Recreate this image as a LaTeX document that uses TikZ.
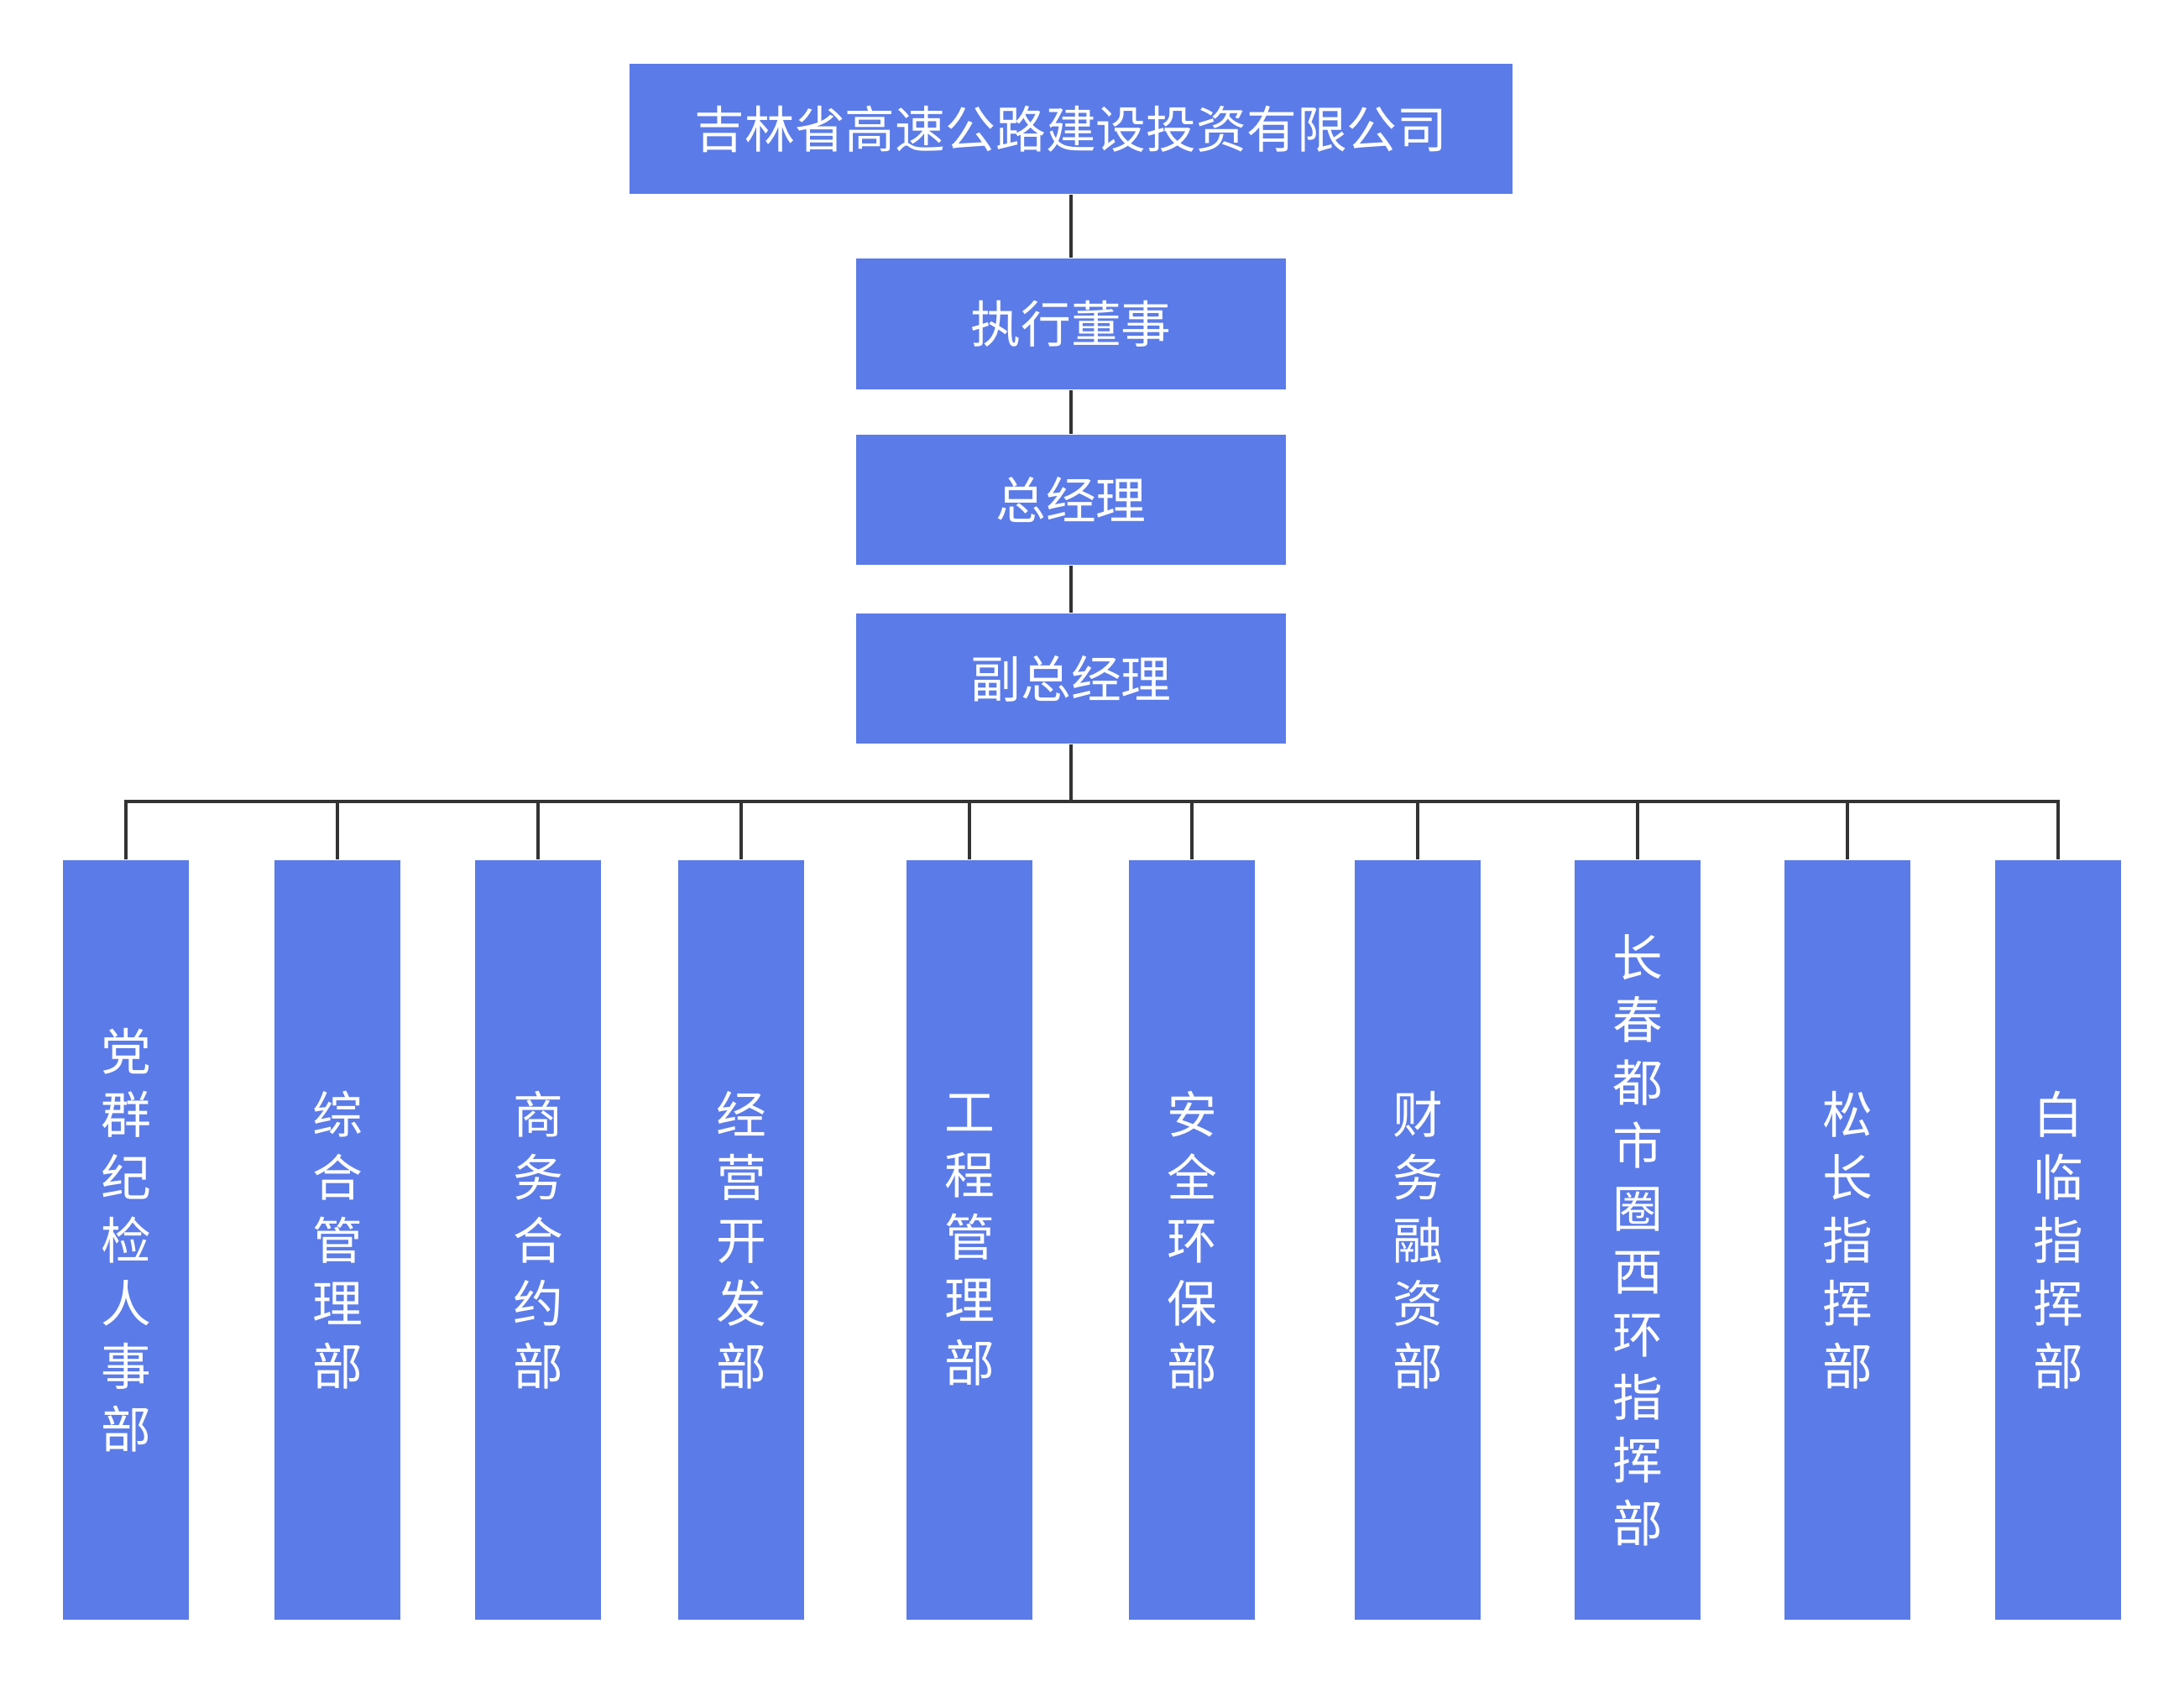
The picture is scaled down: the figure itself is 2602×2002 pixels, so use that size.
\documentclass[tikz,border=0pt]{standalone}
\usepackage{fontspec}
\newfontfamily\cjk{Noto Sans CJK SC}
\definecolor{boxblue}{HTML}{5B7BE8}
\definecolor{linegray}{HTML}{333333}
\tikzset{
  unit/.style={fill=boxblue, text=white, inner sep=0pt, font=\cjk\fontsize{17}{21.3}\selectfont},
  conn/.style={draw=linegray, line width=1.28pt}
}
\begin{document}
\begin{tikzpicture}[x=0.01cm, y=-0.01cm]
  \useasboundingbox[fill=white] (0,0) rectangle (2602,2002);
  \node[unit, minimum width=10.52cm, minimum height=1.55cm] (company) at (1276,153.5) {吉林省高速公路建设投资有限公司};
  \node[unit, minimum width=5.12cm, minimum height=1.56cm] (director) at (1276,386) {执行董事};
  \node[unit, minimum width=5.12cm, minimum height=1.55cm] (manager) at (1276,595.5) {总经理};
  \node[unit, minimum width=5.12cm, minimum height=1.55cm] (deputy) at (1276,808.5) {副总经理};
  \coordinate (bus) at (1276,955);
  \foreach \x/\txt [count=\i] in {
      150/{党\\群\\纪\\检\\人\\事\\部},
      402/{综\\合\\管\\理\\部},
      641/{商\\务\\合\\约\\部},
      883/{经\\营\\开\\发\\部},
      1155/{工\\程\\管\\理\\部},
      1420/{安\\全\\环\\保\\部},
      1689/{财\\务\\融\\资\\部},
      1951/{长\\春\\都\\市\\圈\\西\\环\\指\\挥\\部},
      2201/{松\\长\\指\\挥\\部},
      2452/{白\\临\\指\\挥\\部}}
    \node[unit, align=center, minimum width=1.5cm, minimum height=9.05cm] (dept\i) at (\x,1477.5) {\txt};
  \draw[conn] (company) -- (director);
  \draw[conn] (director) -- (manager);
  \draw[conn] (manager) -- (deputy);
  \draw[conn] (deputy) -- (bus);
  \draw[conn] (dept1.north) |- (bus) -| (dept10.north);
  \foreach \i in {2,...,9}
    \draw[conn] (dept\i.north) -- (dept\i.north |- bus);
\end{tikzpicture}
\end{document}
